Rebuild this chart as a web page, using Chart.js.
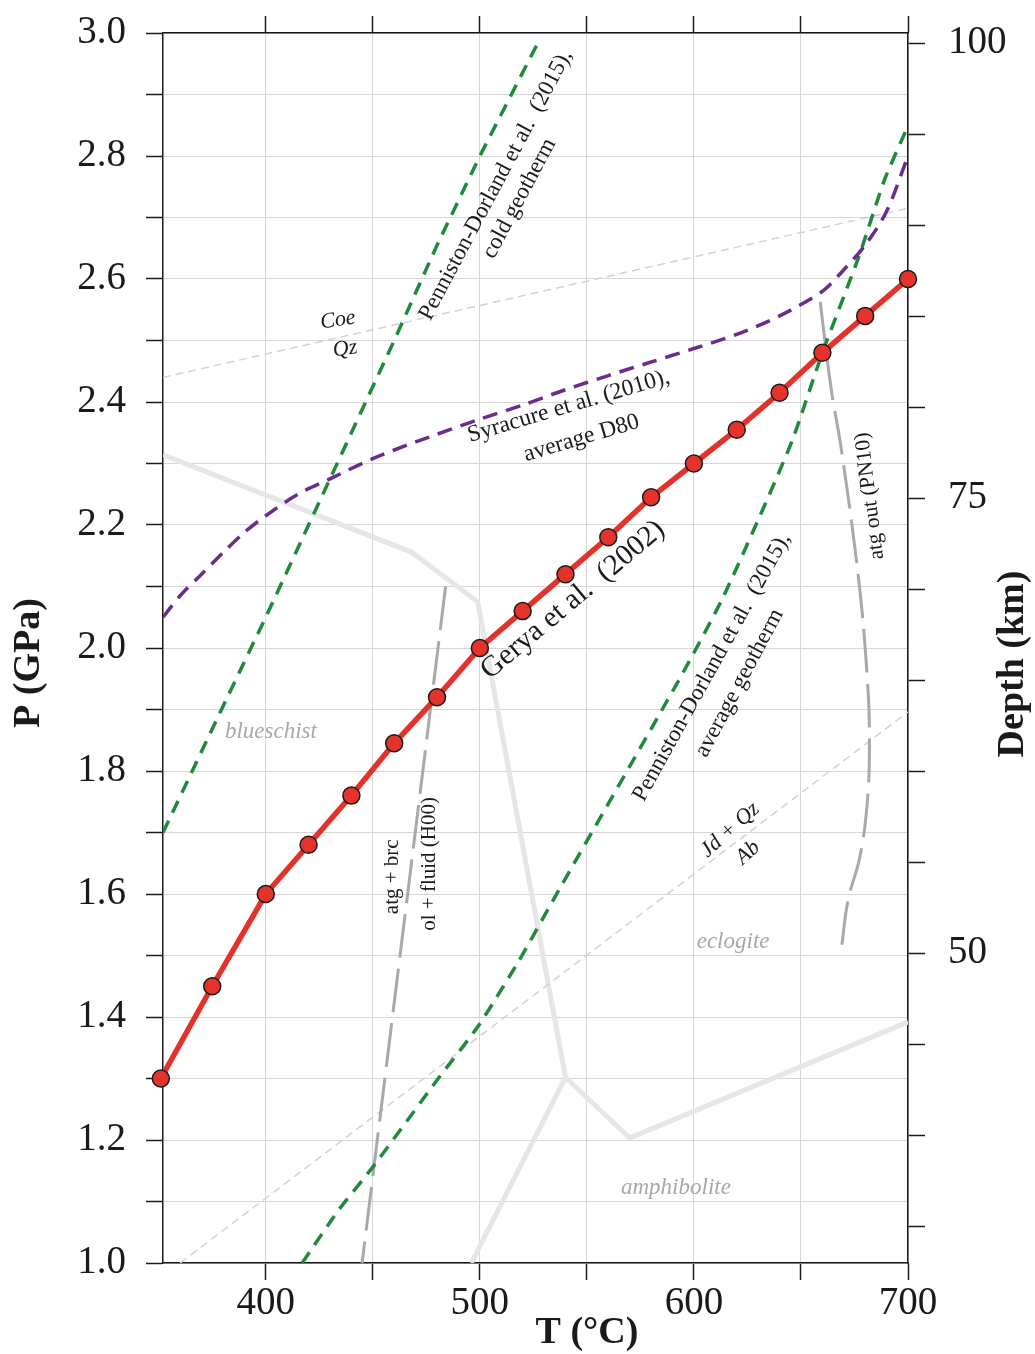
<!DOCTYPE html>
<html>
<head>
<meta charset="utf-8">
<script src="https://cdn.jsdelivr.net/npm/chart.js@4.4.1/dist/chart.umd.min.js"></script>
<style>
  html, body { margin: 0; padding: 0; background: #fff; }
  .chart-box { width: 1035px; height: 1354px; position: relative; }
</style>
</head>
<body>
<div class="chart-box"><canvas id="pt-chart"></canvas></div>
<script>
// Gerya et al. (2002) P-T path
const geryaT = [351, 375, 400, 420, 440, 460, 480, 500, 520, 540, 560, 580, 600, 620, 640, 660, 680, 700]
const geryaP = [1.30, 1.45, 1.60, 1.68, 1.76, 1.845, 1.92, 2.00, 2.06, 2.12, 2.18, 2.245, 2.30, 2.355, 2.415, 2.48, 2.54, 2.60]

// Syracuse et al. (2010), average D80
const syracuseT = [352, 360, 370, 380, 390, 400, 415, 430, 450, 470, 500, 520, 540, 560, 580, 600, 620, 640, 660, 670, 680, 690, 700]
const syracuseP = [2.05, 2.085, 2.12, 2.155, 2.188, 2.215, 2.25, 2.275, 2.308, 2.335, 2.372, 2.395, 2.42, 2.443, 2.465, 2.487, 2.51, 2.54, 2.58, 2.615, 2.655, 2.71, 2.80]

// Penniston-Dorland et al. (2015) geotherms
const coldT = [352, 380, 400, 420, 440, 460, 480, 500, 528]
const coldP = [1.70, 1.905, 2.05, 2.20, 2.35, 2.50, 2.655, 2.80, 2.99]
const averageT = [417, 434, 450, 481, 499, 518, 537, 593, 613, 632, 646, 660, 677, 689, 700]
const averageP = [1.0, 1.086, 1.156, 1.302, 1.384, 1.49, 1.607, 1.948, 2.078, 2.224, 2.338, 2.48, 2.636, 2.761, 2.849]

// atg + brc = ol + fluid (H00)
const atgBrcT = [484, 445]
const atgBrcP = [2.10, 1.0]

// atg out (PN10)
const atgOutT = [659, 664, 669, 677, 681, 682, 681, 677.5, 672, 669]
const atgOutP = [2.563, 2.424, 2.32, 2.11, 1.95, 1.85, 1.75, 1.66, 1.59, 1.514]

// Coe = Qz and Jd + Qz = Ab reactions
const coeQzT = [352, 700]
const coeQzP = [2.44, 2.715]
const jdQzT = [360, 700]
const jdQzP = [1.0, 1.896]

// Facies boundaries
const faciesT = [352, 468, 499, 540, 570, 700]
const faciesP = [2.314, 2.156, 2.075, 1.302, 1.203, 1.392]
const amphiboliteT = [540, 496]
const amphiboliteP = [1.302, 1.0]

// Axes
const tempTicks = [400, 450, 500, 550, 600, 650, 700]
const tempLabels = [400, 500, 600, 700]
const pressureTicks = [1.0, 1.1, 1.2, 1.3, 1.4, 1.5, 1.6, 1.7, 1.8, 1.9, 2.0, 2.1, 2.2, 2.3, 2.4, 2.5, 2.6, 2.7, 2.8, 2.9, 3.0]
const pressureLabels = ['1.0', '1.2', '1.4', '1.6', '1.8', '2.0', '2.2', '2.4', '2.6', '2.8', '3.0']
const depthTicks = [35, 40, 45, 50, 55, 60, 65, 70, 75, 80, 85, 90, 95, 100]
const depthLabels = [50, 75, 100]
const depthMin = 32.97
const depthMax = 100.55

// Text labels placed at (T, P)
const labelList = [
  { text: 'Gerya et al.  (2002)', t: 543.5, p: 2.078, angle: -40, size: 29.5 },
  { text: 'Syracure et al. (2010),', t: 541.5, p: 2.393, angle: -16.5, size: 23.5 },
  { text: 'average D80', t: 547.5, p: 2.341, angle: -16.5, size: 23.5 },
  { text: 'Penniston-Dorland et al.  (2015),', t: 507.5, p: 2.753, angle: -62, size: 23 },
  { text: 'cold geotherm', t: 518.5, p: 2.731, angle: -62, size: 23 },
  { text: 'Penniston-Dorland et al.  (2015),', t: 608.4, p: 1.969, angle: -61, size: 23 },
  { text: 'average geotherm', t: 621.3, p: 1.943, angle: -62, size: 23 },
  { text: 'atg + brc', t: 459.4, p: 1.628, angle: -90, size: 21 },
  { text: 'ol + fluid (H00)', t: 476.7, p: 1.649, angle: -90, size: 21 },
  { text: 'atg out (PN10)', t: 682.2, p: 2.247, angle: -97, size: 21.5 },
  { text: 'Jd + Qz', t: 616.9, p: 1.704, angle: -42, size: 22, italic: true },
  { text: 'Ab', t: 625.3, p: 1.667, angle: -42, size: 22, italic: true },
  { text: 'Coe', t: 433.7, p: 2.533, angle: -8, size: 22, italic: true },
  { text: 'Qz', t: 437, p: 2.486, angle: -8, size: 22, italic: true },
  { text: 'blueschist', t: 402.4, p: 1.863, angle: 0, size: 23, italic: true, grey: true },
  { text: 'eclogite', t: 618.3, p: 1.522, angle: 0, size: 23, italic: true, grey: true },
  { text: 'amphibolite', t: 591.6, p: 1.122, angle: 0, size: 23, italic: true, grey: true }
]

const fontFamily = "'Liberation Serif', 'Times New Roman', serif"
const inkColor = '#1a1a1a'

const toPoints = (xs, ys) => xs.map((x, i) => ({ x: x, y: ys[i] }))

const lineStyle = (color, width, dash) => ({
  borderColor: color,
  borderWidth: width,
  borderDash: dash,
  pointRadius: 0,
  fill: false,
  tension: 0
})

// Fixed axis sizes so the plot area sits where the original one does
const fixHeight = (height) => (scale) => {
  scale.height = height
  scale.paddingLeft = 0
  scale.paddingRight = 0
}
const fixWidth = (width) => (scale) => {
  scale.width = width
  scale.paddingTop = 0
  scale.paddingBottom = 0
}

// Text labels and axis titles
const textPlugin = {
  id: 'textPlugin',
  afterDatasetsDraw(chart) {
    const { ctx, scales } = chart
    ctx.save()
    ctx.textAlign = 'center'
    ctx.textBaseline = 'middle'
    labelList.forEach((item) => {
      const px = scales.x.getPixelForValue(item.t)
      const py = scales.y.getPixelForValue(item.p)
      ctx.save()
      ctx.translate(px, py)
      ctx.rotate(item.angle * Math.PI / 180)
      ctx.font = `${item.italic ? 'italic ' : ''}${item.size}px ${fontFamily}`
      ctx.fillStyle = item.grey ? '#a8a8a8' : inkColor
      ctx.fillText(item.text, 0, 0)
      ctx.restore()
    })
    ctx.restore()
  },
  afterDraw(chart) {
    const { ctx } = chart
    ctx.save()
    ctx.fillStyle = inkColor
    ctx.font = `bold 38px ${fontFamily}`
    ctx.textAlign = 'center'
    ctx.textBaseline = 'middle'
    ctx.fillText('T (°C)', 587, 1333)

    ctx.save()
    ctx.translate(29, 663)
    ctx.rotate(-Math.PI / 2)
    ctx.fillText('P (GPa)', 0, 0)
    ctx.restore()

    ctx.save()
    ctx.translate(1013, 664)
    ctx.rotate(-Math.PI / 2)
    ctx.fillText('Depth (km)', 0, 0)
    ctx.restore()
    ctx.restore()
  }
}

const axisBorder = { display: true, color: inkColor, width: 1.5 }
const tickFont = { family: fontFamily, size: 39 }

new Chart(document.getElementById('pt-chart'), {
  type: 'line',
  data: {
    datasets: [
      {
        label: 'Gerya et al. (2002)',
        data: toPoints(geryaT, geryaP),
        borderColor: '#e4312a',
        borderWidth: 5.5,
        pointRadius: 8.5,
        pointBackgroundColor: '#e5332b',
        pointBorderColor: inkColor,
        pointBorderWidth: 1.5,
        tension: 0,
        clip: false
      },
      {
        label: 'Syracuse et al. (2010)',
        data: toPoints(syracuseT, syracuseP),
        ...lineStyle('#6a2c8e', 3.5, [15, 9]),
        tension: 0.3
      },
      {
        label: 'Cold geotherm',
        data: toPoints(coldT, coldP),
        ...lineStyle('#1f8a3b', 3.5, [13, 9])
      },
      {
        label: 'Average geotherm',
        data: toPoints(averageT, averageP),
        ...lineStyle('#1f8a3b', 3.5, [13, 9]),
        tension: 0.2
      },
      {
        label: 'atg + brc = ol + fluid',
        data: toPoints(atgBrcT, atgBrcP),
        ...lineStyle('#a9a9a9', 3, [44, 11])
      },
      {
        label: 'atg out',
        data: toPoints(atgOutT, atgOutP),
        ...lineStyle('#a9a9a9', 3, [44, 11]),
        tension: 0.4
      },
      {
        label: 'Coe = Qz',
        data: toPoints(coeQzT, coeQzP),
        ...lineStyle('#d2d2d2', 1.5, [8, 5])
      },
      {
        label: 'Jd + Qz = Ab',
        data: toPoints(jdQzT, jdQzP),
        ...lineStyle('#d2d2d2', 1.5, [8, 5])
      },
      {
        label: 'Facies boundary',
        data: toPoints(faciesT, faciesP),
        ...lineStyle('#e6e6e6', 5, [])
      },
      {
        label: 'Amphibolite boundary',
        data: toPoints(amphiboliteT, amphiboliteP),
        ...lineStyle('#e6e6e6', 5, [])
      }
    ]
  },
  options: {
    responsive: true,
    maintainAspectRatio: false,
    animation: false,
    layout: { padding: 0 },
    plugins: {
      legend: { display: false },
      tooltip: { enabled: false }
    },
    scales: {
      x: {
        type: 'linear',
        position: 'bottom',
        min: 352,
        max: 700,
        afterBuildTicks: (scale) => { scale.ticks = tempTicks.map((v) => ({ value: v })) },
        afterFit: fixHeight(91),
        ticks: {
          autoSkip: false,
          maxRotation: 0,
          padding: 0,
          color: inkColor,
          font: tickFont,
          callback: (value) => tempLabels.includes(value) ? String(value) : ''
        },
        grid: { color: '#d6d6d6', lineWidth: 1, tickColor: inkColor, tickLength: 17, tickWidth: 1.5 },
        border: axisBorder
      },
      xTop: {
        type: 'linear',
        position: 'top',
        min: 352,
        max: 700,
        afterBuildTicks: (scale) => { scale.ticks = tempTicks.map((v) => ({ value: v })) },
        afterFit: fixHeight(33),
        ticks: { autoSkip: false, maxRotation: 0, callback: () => '' },
        grid: { drawOnChartArea: false, tickColor: inkColor, tickLength: 17, tickWidth: 1.5 },
        border: axisBorder
      },
      y: {
        type: 'linear',
        position: 'left',
        min: 1,
        max: 3,
        afterBuildTicks: (scale) => { scale.ticks = pressureTicks.map((v) => ({ value: v })) },
        afterFit: fixWidth(163),
        ticks: {
          autoSkip: false,
          padding: 20,
          color: inkColor,
          font: tickFont,
          callback: (value) => {
            const text = value.toFixed(1)
            return pressureLabels.includes(text) ? text : ''
          }
        },
        grid: { color: '#d6d6d6', lineWidth: 1, tickColor: inkColor, tickLength: 17, tickWidth: 1.5 },
        border: axisBorder
      },
      depth: {
        type: 'linear',
        position: 'right',
        min: depthMin,
        max: depthMax,
        afterBuildTicks: (scale) => { scale.ticks = depthTicks.map((v) => ({ value: v })) },
        afterFit: fixWidth(127),
        ticks: {
          autoSkip: false,
          padding: 23,
          color: inkColor,
          font: tickFont,
          callback: (value) => depthLabels.includes(value) ? String(value) : ''
        },
        grid: { drawOnChartArea: false, tickColor: inkColor, tickLength: 17, tickWidth: 1.5 },
        border: axisBorder
      }
    }
  },
  plugins: [textPlugin]
})
</script>
</body>
</html>
